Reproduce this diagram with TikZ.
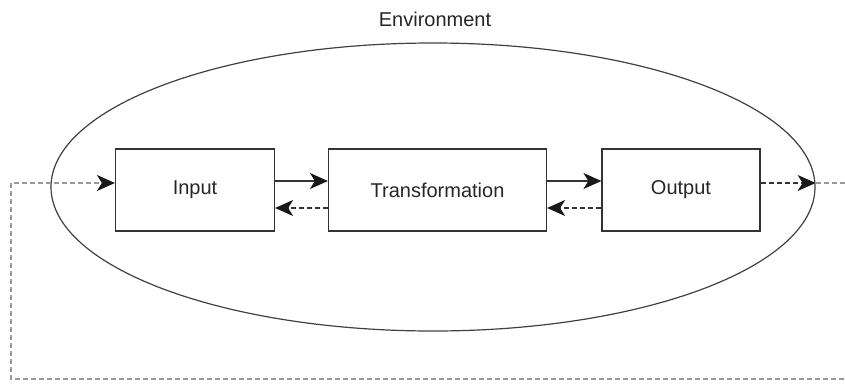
\documentclass[tikz,border=0pt]{standalone}
\usepackage{fontspec}
\setmainfont{Liberation Sans}
\usetikzlibrary{positioning, shapes, arrows.meta}

\begin{document}
\begin{tikzpicture}[x=1pt, y=-1pt,
    block/.style={rectangle, draw=black!80, line width=1.2pt, minimum height=82pt, text=black!85, font=\fontsize{20}{24}\selectfont},
    flow/.style={draw=black!80, line width=1.2pt, -{Stealth[length=18pt, width=16pt, inset=5pt, color=black!90]}},
    back/.style={flow, dash pattern=on 5pt off 3pt},
    loopline/.style={draw=black!40, line width=1.2pt, dash pattern=on 5pt off 3pt, -{Stealth[length=18pt, width=16pt, inset=5pt, color=black!90]}}]
    \path[use as bounding box, clip] (0,0) rectangle (845,383);

    \node[ellipse, draw=black!75, line width=1.2pt, minimum width=764pt, minimum height=288pt] (env) at (433, 187) {};
    \node[anchor=base, text=black!85, font=\fontsize{20}{24}\selectfont] (envname) at (435, 26) {Environment};

    \node[block, minimum width=159pt] (input) at (195, 190) {Input};
    \node[block, minimum width=218pt] (trans) at (437.5, 190) {Transformation};
    \node[block, minimum width=158pt] (output) at (681, 190) {Output};

    \coordinate (turnR) at (852, 183);
    \coordinate (turnL) at (11, 379);

    \path ([yshift=9pt]input.east) edge[flow] ([yshift=9pt]trans.west);
    \path ([yshift=9pt]trans.east) edge[flow] ([yshift=9pt]output.west);
    \path ([yshift=-18pt]trans.west) edge[back] ([yshift=-18pt]input.east);
    \path ([yshift=-18pt]output.west) edge[back] ([yshift=-18pt]trans.east);

    \draw[back] ([yshift=7pt]output.east) -- ([yshift=4pt]env.east);
    \draw[loopline] ([yshift=4pt]env.east) -- (turnR) |- (turnL) |- ([yshift=7pt]input.west);
\end{tikzpicture}
\end{document}
